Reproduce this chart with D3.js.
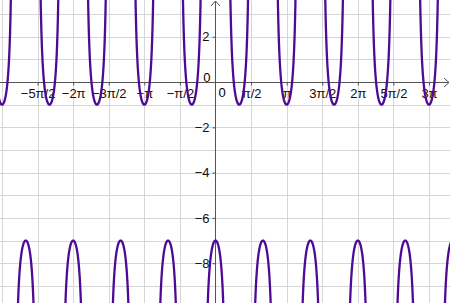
<!DOCTYPE html>
<html>
<head>
<meta charset="utf-8">
<script src="https://cdn.jsdelivr.net/npm/d3@7"></script>
<style>
  body { margin: 0; background: #fff; }
  svg { display: block; font-family: "Liberation Sans", Arial, sans-serif; }
  .grid line { stroke: #d6d6d6; stroke-width: 1; }
  .axis path, .axis line { stroke: #555; }
  .axis text { font-size: 13px; fill: #111; }
</style>
</head>
<body>
<div id="chart"></div>
<script>
// x ticks, in multiples of pi/2
const xTickSteps = [-5, -4, -3, -2, -1, 1, 2, 3, 4, 5, 6];
const xTickLabels = ['−5π/2', '−2π', '−3π/2', '−π', '−π/2', 'π/2', 'π', '3π/2', '2π', '5π/2', '3π'];
const yTickValues = [-8, -6, -4, -2, 2];
const yGridValues = [-9, -8, -7, -6, -5, -4, -3, -2, -1, 1, 2, 3];

// plotted curve: y = shift + amp * sec(freq * x)
const curveShift = -4;
const curveAmp = -3;
const curveFreq = 3;

const width = 450, height = 303;
const unit = 22.65;          // px per unit, same on both axes
const originX = 215.5, originY = 82;

const x = d3.scaleLinear()
  .domain([-originX / unit, (width - originX) / unit])
  .range([0, width]);
const y = d3.scaleLinear()
  .domain([originY / unit, -(height - originY) / unit])
  .range([0, height]);

const svg = d3.select('#chart').append('svg')
  .attr('width', width)
  .attr('height', height);

svg.append('defs').append('clipPath').attr('id', 'clip')
  .append('rect').attr('width', width).attr('height', height);

// grid
const grid = svg.append('g').attr('class', 'grid');
grid.selectAll('line.v')
  .data(xTickSteps.map(k => k * Math.PI / 2).concat([-6 * Math.PI / 2]))
  .enter().append('line')
  .attr('x1', d => Math.round(x(d)) + 0.5).attr('x2', d => Math.round(x(d)) + 0.5)
  .attr('y1', 0).attr('y2', height);
grid.selectAll('line.h')
  .data(yGridValues)
  .enter().append('line')
  .attr('y1', d => Math.round(y(d)) + 0.5).attr('y2', d => Math.round(y(d)) + 0.5)
  .attr('x1', 0).attr('x2', width);

const fmt = d => d < 0 ? '−' + (-d) : String(d);

// y axis
const yAxis = svg.append('g')
  .attr('class', 'axis')
  .attr('transform', `translate(${originX},0)`)
  .call(d3.axisLeft(y).tickValues(yTickValues).tickSize(3).tickPadding(3).tickFormat(fmt));
yAxis.select('.domain').remove();
yAxis.append('line')
  .attr('x1', 0).attr('x2', 0).attr('y1', 1).attr('y2', height);

// x axis
const xAxis = svg.append('g')
  .attr('class', 'axis')
  .attr('transform', `translate(0,${originY + 0.5})`)
  .call(d3.axisBottom(x)
    .tickValues(xTickSteps.map(k => k * Math.PI / 2))
    .tickSize(3).tickPadding(3)
    .tickFormat((d, i) => xTickLabels[i]));
xAxis.select('.domain').remove();
xAxis.append('line')
  .attr('x1', 0).attr('x2', width - 1).attr('y1', 0).attr('y2', 0);

// arrows
svg.append('polyline')
  .attr('points', `${width - 6},${originY - 4} ${width - 1},${originY + 0.5} ${width - 6},${originY + 5}`)
  .attr('fill', 'none').attr('stroke', '#555');
svg.append('polyline')
  .attr('points', `${originX - 4.5},6 ${originX},1 ${originX + 4.5},6`)
  .attr('fill', 'none').attr('stroke', '#555');

// origin labels
svg.append('text').attr('x', originX - 5).attr('y', originY - 0.5)
  .attr('text-anchor', 'end').style('font-size', '13px').text('0');
svg.append('text').attr('x', originX + 6.5).attr('y', originY + 15)
  .attr('text-anchor', 'middle').style('font-size', '13px').text('0');

// curve, one branch between each pair of asymptotes
const f = t => curveShift + curveAmp / Math.cos(curveFreq * t);
const half = Math.PI / (2 * curveFreq);
const period = Math.PI / curveFreq;
const [x0, x1] = x.domain();
const branches = [];
for (let k = Math.floor(x0 / period) - 1; k <= Math.ceil(x1 / period) + 1; k++) {
  const c = k * period;
  const pts = [];
  for (let i = 1; i < 800; i++) {
    const t = c - half + (2 * half) * i / 800;
    const v = f(t);
    if (Math.abs(v) < 40) pts.push([t, v]);
  }
  branches.push(pts);
}

const line = d3.line().x(d => x(d[0])).y(d => y(d[1]));
svg.append('g').attr('clip-path', 'url(#clip)')
  .selectAll('path')
  .data(branches)
  .enter().append('path')
  .attr('d', line)
  .attr('fill', 'none')
  .attr('stroke', '#4e0a94')
  .attr('stroke-width', 2.3);
</script>
</body>
</html>
